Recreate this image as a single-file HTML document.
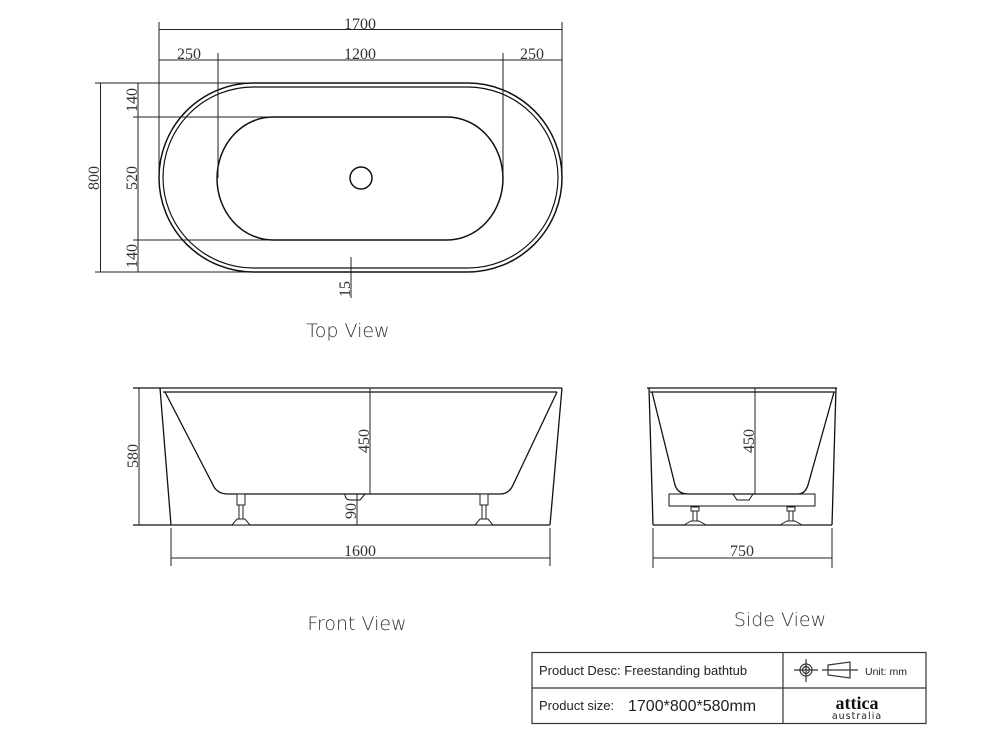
<!DOCTYPE html>
<html><head><meta charset="utf-8"><style>
html,body{margin:0;padding:0;background:#fff;}
svg{display:block;}
.d{font-family:"Liberation Serif",serif;font-size:16px;fill:#333;}
.v{font-family:"DejaVu Sans",sans-serif;font-size:19px;fill:#333;font-weight:300;}
.t{font-family:"Liberation Sans",sans-serif;font-size:13px;fill:#222;}
</style></head><body>
<svg width="1006" height="736" viewBox="0 0 1006 736" xmlns="http://www.w3.org/2000/svg">
<g fill="none" stroke="#222" stroke-width="1">
<line x1="159" y1="22" x2="159" y2="180"/><line x1="562" y1="22" x2="562" y2="180"/>
<line x1="159" y1="29.5" x2="562" y2="29.5"/>
<line x1="159" y1="60" x2="562" y2="60"/>
<line x1="218" y1="53" x2="218" y2="178"/><line x1="503" y1="53" x2="503" y2="178"/>
<line x1="95" y1="83" x2="260" y2="83"/><line x1="95" y1="272" x2="260" y2="272"/>
<line x1="100.5" y1="83" x2="100.5" y2="272"/>
<line x1="138" y1="83" x2="138" y2="272"/>
<line x1="133" y1="117" x2="275" y2="117"/><line x1="133" y1="240" x2="275" y2="240"/>
<line x1="351" y1="257" x2="351" y2="298"/>
</g>
<g fill="none" stroke="#111" stroke-width="1.5">
<rect x="159" y="83" width="403" height="189" rx="94.5" ry="94.5"/>
<rect x="163" y="87" width="395" height="181" rx="90.5" ry="90.5" stroke-width="1.2"/>
<path d="M273 117 H447 A56 61.5 0 0 1 447 240 H273 A56 61.5 0 0 1 273 117 Z"/>
<circle cx="361" cy="178" r="11"/>
</g>
<text class="d" x="360" y="29" text-anchor="middle">1700</text>
<text class="d" x="189" y="59" text-anchor="middle">250</text>
<text class="d" x="360" y="59" text-anchor="middle">1200</text>
<text class="d" x="532" y="59" text-anchor="middle">250</text>
<text class="d" transform="translate(99,178) rotate(-90)" text-anchor="middle">800</text>
<text class="d" transform="translate(137,100) rotate(-90)" text-anchor="middle">140</text>
<text class="d" transform="translate(137,178) rotate(-90)" text-anchor="middle">520</text>
<text class="d" transform="translate(137,256) rotate(-90)" text-anchor="middle">140</text>
<text class="d" transform="translate(350,289) rotate(-90)" text-anchor="middle">15</text>
<text class="v" x="348" y="337" text-anchor="middle">Top View</text>

<g fill="none" stroke="#111" stroke-width="1.3">
<line x1="133" y1="388" x2="562" y2="388"/>
<line x1="163" y1="392" x2="557" y2="392"/>
<line x1="160" y1="388" x2="171" y2="525"/>
<line x1="562" y1="388" x2="550" y2="525"/>
<line x1="133" y1="525" x2="550" y2="525"/>
<path d="M165 392 L213 485 Q217 494 228 494 L500 494 Q509 494 513 485 L557 392"/>
<path d="M345 494 Q345 500 351 500 H360 L365 494" stroke-width="1"/>
</g>
<g fill="none" stroke="#222" stroke-width="1">
<line x1="139" y1="388" x2="139" y2="525"/>
<line x1="370" y1="388" x2="370" y2="494"/>
<line x1="357" y1="494" x2="357" y2="525"/>
<line x1="171" y1="528" x2="171" y2="566"/><line x1="550" y1="528" x2="550" y2="566"/>
<line x1="171" y1="558" x2="550" y2="558"/>
<line x1="653" y1="528" x2="653" y2="568"/><line x1="832" y1="528" x2="832" y2="568"/>
<line x1="653" y1="558" x2="832" y2="558"/>
<line x1="755" y1="388" x2="755" y2="494"/>
</g>
<g fill="#fff" stroke="#222" stroke-width="1">
<rect x="237" y="494" width="8" height="11"/><rect x="239" y="505" width="4" height="14"/>
<path d="M232 525 L237 519 H245 L250 525 Z"/>
<rect x="480" y="494" width="8" height="11"/><rect x="482" y="505" width="4" height="14"/>
<path d="M475 525 L480 519 H488 L493 525 Z"/>
</g>
<text class="d" transform="translate(138,456) rotate(-90)" text-anchor="middle">580</text>
<text class="d" transform="translate(369,441) rotate(-90)" text-anchor="middle">450</text>
<text class="d" transform="translate(356,511) rotate(-90)" text-anchor="middle">90</text>
<text class="d" x="360" y="556" text-anchor="middle">1600</text>
<text class="v" x="357" y="630" text-anchor="middle">Front View</text>

<g fill="none" stroke="#111" stroke-width="1.3">
<line x1="647" y1="388" x2="837" y2="388"/>
<line x1="650" y1="392" x2="835" y2="392"/>
<line x1="649" y1="388" x2="653" y2="525"/>
<line x1="836" y1="388" x2="832" y2="525"/>
<line x1="653" y1="525" x2="832" y2="525"/>
<path d="M652 392 L675 485 Q678 494 688 494 L798 494 Q805 494 808 485 L834 392"/>
<rect x="669" y="494" width="146" height="12" stroke-width="1"/>
<path d="M733 494 L737 500 H749 L753 494" stroke-width="1"/>
</g>
<g fill="#fff" stroke="#222" stroke-width="1">
<rect x="691" y="507" width="8" height="4"/><rect x="693" y="511" width="4" height="10"/>
<path d="M684 525 L691 521 H699 L706 525 Z"/>
<rect x="787" y="507" width="8" height="4"/><rect x="789" y="511" width="4" height="10"/>
<path d="M780 525 L787 521 H795 L802 525 Z"/>
</g>
<text class="d" transform="translate(754,441) rotate(-90)" text-anchor="middle">450</text>
<text class="d" x="742" y="556" text-anchor="middle">750</text>
<text class="v" x="780" y="626" text-anchor="middle">Side View</text>

<g fill="none" stroke="#333" stroke-width="1.2">
<rect x="532" y="652.5" width="394" height="71"/>
<line x1="532" y1="688" x2="926" y2="688"/>
<line x1="783" y1="652" x2="783" y2="724"/>
<circle cx="806" cy="670" r="6"/><circle cx="806" cy="670" r="3.5"/>
<line x1="794" y1="670" x2="818" y2="670"/><line x1="806" y1="659" x2="806" y2="682"/>
<path d="M828 665 L850 662 V678 L828 675 Z"/>
<line x1="822" y1="670" x2="858" y2="670"/>
</g>
<text class="t" x="539" y="675">Product Desc:  Freestanding bathtub</text>
<text class="t" x="539" y="710">Product size:  </text>
<text class="t" x="628" y="711" style="font-size:16px">1700*800*580mm</text>
<text class="t" x="865" y="675" style="font-size:10.5px">Unit:  mm</text>
<text x="857" y="709" text-anchor="middle" style="font-family:'Liberation Serif',serif;font-weight:bold;font-size:18px;fill:#111">attica</text>
<text x="857" y="719" text-anchor="middle" style="font-family:'DejaVu Sans',sans-serif;font-size:9.5px;fill:#222;letter-spacing:1px">australia</text>
</svg>
</body></html>
